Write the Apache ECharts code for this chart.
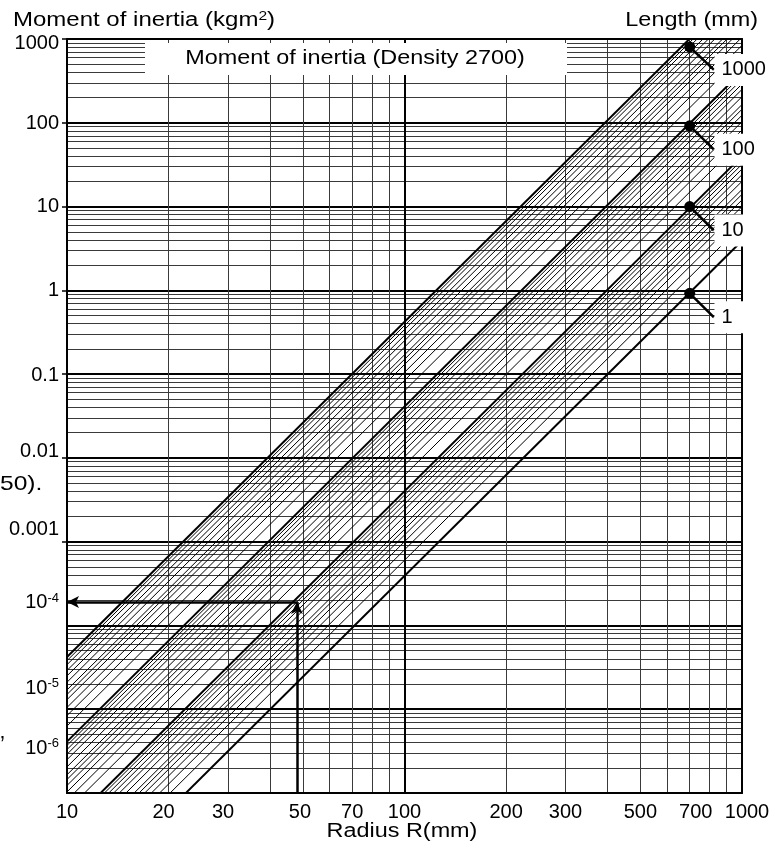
<!DOCTYPE html>
<html><head><meta charset="utf-8">
<script src="https://cdn.jsdelivr.net/npm/echarts@6/dist/echarts.min.js"></script>
<style>html,body{margin:0;padding:0;background:#fff}#c{width:777px;height:848px}</style>
</head><body><div id="c"></div>
<script>
// ---------- data ----------
const radiusTickLabels = [10, 20, 30, 50, 70, 100, 200, 300, 500, 700, 1000];
const radiusGridLines = [10, 20, 30, 40, 50, 60, 70, 80, 90, 100, 200, 300, 400, 500, 600, 700, 800, 900, 1000];
const radiusDecades = [10, 100, 1000];
const inertiaDecades = [1e-6, 1e-5, 1e-4, 1e-3, 1e-2, 0.1, 1, 10, 100, 1000];
const inertiaTickText = ['10|-6', '10|-5', '10|-4', '0.001', '0.01', '0.1', '1', '10', '100', '1000'];
const inertiaTickedDecades = [1e-3, 1e-2, 0.1, 1, 10, 100, 1000];
const inertiaMantissas = [1, 2, 3, 4, 5, 6, 7, 8, 9];

const lengthNames = ['1000', '100', '10', '1'];
// main length lines: inertia read at R = 10 mm and R = 1000 mm
const mainAtR10 = [4.2e-5, 4.1e-6, 4.0e-7, 3.9e-8];
const mainAtR1000 = [4200, 410, 40, 3.9];
// hatch lines inside each band
const hatchAtR10 = [
  [3.8e-5, 3.4e-5, 2.9e-5, 2.5e-5, 2.1e-5, 1.7e-5, 1.5e-5, 1.3e-5, 1.05e-5, 8.4e-6, 6.3e-6],
  [3.7e-6, 3.3e-6, 2.9e-6, 2.5e-6, 2.05e-6, 1.65e-6, 1.45e-6, 1.23e-6, 1.03e-6, 8.2e-7, 6.2e-7],
  [3.6e-7, 3.2e-7, 2.8e-7, 2.4e-7, 2.0e-7, 1.6e-7, 1.4e-7, 1.2e-7, 1.0e-7, 8.0e-8, 6.0e-8]
];
const hatchAtR1000 = [
  [3800, 3400, 2900, 2500, 2100, 1700, 1500, 1300, 1050, 840, 630],
  [370, 330, 290, 250, 205, 165, 145, 123, 103, 82, 62],
  [36, 32, 28, 24, 20, 16, 14, 12, 10, 8.0, 6.0]
];
const dotRadius = [700, 700, 700, 700];
const dotInertia = [803, 92, 10, 0.92];
const labelRadius = [826, 826, 826, 826];
const labelInertia = [428, 47.7, 5.18, 0.477];
const exampleRadius = 48;
const exampleInertia = 1.9e-4;
const exampleBottom = 1e-6;
const exampleLeft = 10;

// ---------- styling ----------
const FONT = 'Liberation Sans';
const inertiaGridLines = [];
inertiaDecades.forEach(d => inertiaMantissas.forEach(m => { const v = +(d * m).toPrecision(3); if (v <= 1000) inertiaGridLines.push(v); }));

// per-label vertical shift (px, + = down) as seen in the reference
const yShift = {'3': 4, '2': 1, '1': 0, '0': 0, '-1': 1, '-2': -6, '-3': -12, '-4': -23, '-5': -21, '-6': -45};
// per-label horizontal shift (px, + = right)
const xShift = {'20': -5, '30': -5, '50': -3, '700': 6, '1000': 5};

const yRich = {
  n: {fontFamily: FONT, fontSize: 20, color: '#000', lineHeight: 22},
  p: {fontFamily: FONT, fontSize: 13, color: '#000', lineHeight: 14, verticalAlign: 'top'}
};
Object.values(yShift).forEach(s => { const h = Math.abs(s) * 2; if (h) yRich['sp' + h] = {fontSize: 1, lineHeight: h}; });
const xRich = {c: {fontFamily: FONT, fontSize: 20, color: '#000'}};
function xName(s) { return s > 0 ? 'xr' + s : 'xl' + (-s); }
Object.values(xShift).forEach(s => {
  const p = Math.abs(s) * 2;
  xRich[xName(s)] = {fontFamily: FONT, fontSize: 20, color: '#000', padding: s > 0 ? [0, 0, 0, p] : [0, p, 0, 0]};
});

function yFormatter(v) {
  const e = Math.round(Math.log10(v));
  const idx = inertiaDecades.findIndex(d => Math.round(Math.log10(d)) === e);
  const t = inertiaTickText[idx];
  let txt = t.indexOf('|') >= 0 ? '{n|' + t.split('|')[0] + '}{p|' + t.split('|')[1] + '}' : '{n|' + t + '}';
  const s = yShift[String(e)] || 0;
  if (s > 0) txt = '{sp' + (2 * s) + '| }\n' + txt;
  if (s < 0) txt = txt + '\n{sp' + (-2 * s) + '| }';
  return txt;
}
function xFormatter(v) {
  const key = String(Math.round(v));
  return xShift[key] ? '{' + xName(xShift[key]) + '|' + key + '}' : '{c|' + key + '}';
}

const series = [];
const lineBase = {type: 'line', symbol: 'none', silent: true, animation: false, clip: true, xAxisIndex: 0, yAxisIndex: 0};
hatchAtR10.forEach((band, b) => band.forEach((v, i) => {
  series.push(Object.assign({}, lineBase, {data: [[10, v], [1000, hatchAtR1000[b][i]]], lineStyle: {color: '#000', width: 1, opacity: 1}, z: 3}));
}));
mainAtR10.forEach((v, i) => {
  series.push(Object.assign({}, lineBase, {data: [[10, v], [1000, mainAtR1000[i]]], lineStyle: {color: '#000', width: 2, opacity: 1}, z: 4}));
});
// pointers from dots to length labels
dotRadius.forEach((r, i) => {
  series.push(Object.assign({}, lineBase, {data: [[r, dotInertia[i]], [labelRadius[i], labelInertia[i]]], lineStyle: {color: '#000', width: 2.5, opacity: 1}, z: 6}));
});
// dots
series.push({type: 'scatter', silent: true, animation: false, symbol: 'circle', symbolSize: 11,
  itemStyle: {color: '#000', opacity: 1}, data: dotRadius.map((r, i) => [r, dotInertia[i]]), z: 7});
// length labels with white boxes
series.push({type: 'scatter', silent: true, animation: false, symbol: 'circle', symbolSize: 1, z: 8,
  itemStyle: {color: '#fff', opacity: 1},
  data: labelRadius.map((r, i) => ({value: [r, labelInertia[i]], name: lengthNames[i]})),
  label: {show: true, position: 'right', distance: 0, formatter: p => p.name, color: '#000', opacity: 1,
    fontFamily: FONT, fontSize: 20, backgroundColor: '#fff', padding: [6, 12, 6, 7]}});
// worked example arrows
series.push({type: 'line', data: [], silent: true, animation: false, z: 9,
  markLine: {silent: true, animation: false, symbol: ['none', 'arrow'], symbolSize: [9, 12],
    label: {show: false}, lineStyle: {color: '#000', width: 2.5, type: 'solid', opacity: 1},
    data: [
      [{coord: [exampleRadius, exampleBottom]}, {coord: [exampleRadius, exampleInertia]}],
      [{coord: [exampleRadius, exampleInertia]}, {coord: [exampleLeft, exampleInertia]}]
    ]}});

const logX = {type: 'log', logBase: 10, min: 10, max: 1000, gridIndex: 0};
const logY = {type: 'log', logBase: 10, min: 1e-6, max: 1000, gridIndex: 0};

const option = {
  animation: false,
  backgroundColor: '#fff',
  grid: {left: 67, right: 35, top: 39, bottom: 55, show: false, containLabel: false, outerBoundsMode: 'none'},
  xAxis: [
    Object.assign({}, logX, {position: 'bottom',
      axisLine: {show: true, onZero: false, lineStyle: {color: '#000', width: 2}},
      axisTick: {show: false, customValues: radiusGridLines},
      splitLine: {show: true, lineStyle: {color: '#3a3a3a', width: 1}},
      axisLabel: {show: true, customValues: radiusTickLabels, formatter: xFormatter, rich: xRich, margin: 9, color: '#000'}}),
    Object.assign({}, logX, {position: 'top',
      axisLine: {show: true, onZero: false, lineStyle: {color: '#000', width: 2}},
      axisTick: {show: false, customValues: radiusDecades},
      splitLine: {show: true, lineStyle: {color: '#000', width: 2}},
      axisLabel: {show: false}})
  ],
  yAxis: [
    Object.assign({}, logY, {position: 'left',
      axisLine: {show: true, onZero: false, lineStyle: {color: '#000', width: 2}},
      axisTick: {show: false, customValues: inertiaGridLines},
      splitLine: {show: true, lineStyle: {color: '#3a3a3a', width: 1}},
      axisLabel: {show: true, customValues: inertiaDecades, formatter: yFormatter, rich: yRich, margin: 8, align: 'right'}}),
    Object.assign({}, logY, {position: 'right',
      axisLine: {show: true, onZero: false, lineStyle: {color: '#000', width: 2}},
      axisTick: {show: false, customValues: inertiaDecades},
      splitLine: {show: true, lineStyle: {color: '#000', width: 2}},
      axisLabel: {show: false}}),
    Object.assign({}, logY, {position: 'left',
      axisLine: {show: false},
      axisTick: {show: true, length: 5, inside: false, customValues: inertiaTickedDecades, lineStyle: {color: '#000', width: 1.5}},
      splitLine: {show: false},
      axisLabel: {show: false}})
  ],
  graphic: [
    {type: 'rect', z: 100, shape: {x: 145, y: 43, width: 422, height: 32}, style: {fill: '#fff'}},
    {type: 'text', z: 101, x: 355, y: 58, scaleX: 1.17,
      style: {text: 'Moment of inertia (Density 2700)', fontFamily: FONT, fontSize: 20, fill: '#000', align: 'center', verticalAlign: 'middle'}},
    {type: 'text', z: 101, x: 13, y: 20, scaleX: 1.2,
      style: {text: 'Moment of inertia (kgm{s|2})', fontFamily: FONT, fontSize: 20, fill: '#000', align: 'left', verticalAlign: 'middle',
        rich: {s: {fontFamily: FONT, fontSize: 13, fill: '#000', verticalAlign: 'top'}}}},
    {type: 'text', z: 101, x: 758, y: 20, scaleX: 1.17,
      style: {text: 'Length (mm)', fontFamily: FONT, fontSize: 20, fill: '#000', align: 'right', verticalAlign: 'middle'}},
    {type: 'text', z: 101, x: 402, y: 831, scaleX: 1.17,
      style: {text: 'Radius R(mm)', fontFamily: FONT, fontSize: 20, fill: '#000', align: 'center', verticalAlign: 'middle'}},
    {type: 'text', z: 101, x: 0, y: 484, scaleX: 1.17,
      style: {text: '50).', fontFamily: FONT, fontSize: 21, fill: '#000', align: 'left', verticalAlign: 'middle'}},
    {type: 'text', z: 101, x: 0, y: 745,
      style: {text: '\u2019', fontFamily: FONT, fontSize: 22, fill: '#000', align: 'left', verticalAlign: 'middle'}}
  ],
  series: series
};
const chart = echarts.init(document.getElementById('c'), null, {renderer: 'canvas'});
chart.setOption(option);
</script>
</body></html>
